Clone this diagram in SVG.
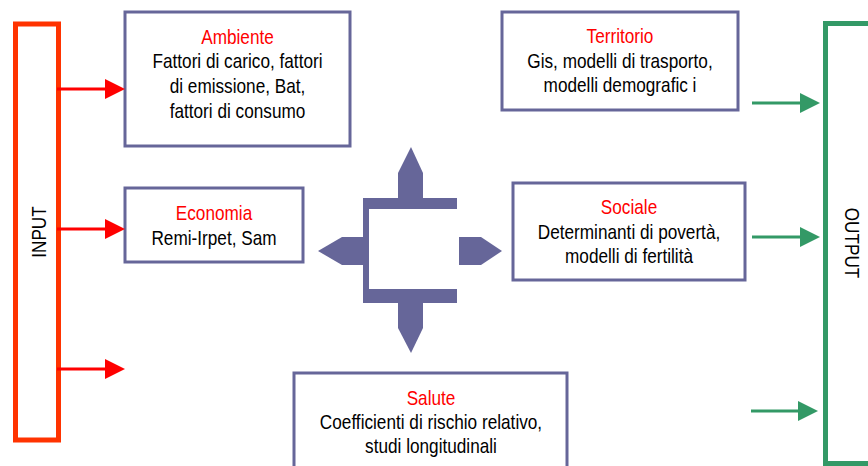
<svg xmlns="http://www.w3.org/2000/svg" width="868" height="466" viewBox="0 0 868 466">
<style>
  text { font-family: "Liberation Sans Narrow", "Arial Narrow", "Liberation Sans", Arial, sans-serif; font-size: 20px; text-anchor: middle; fill: #000; }
  .title { fill: #FF0000; }
  .box { fill: #FFFFFF; stroke: #666699; stroke-width: 3; }
  .red { stroke: #FF0000; stroke-width: 3; fill: none; }
  .green { stroke: #339966; stroke-width: 3; fill: none; }
  .hub { fill: #666699; }
</style>
<defs>
  <marker id="headRed" markerUnits="userSpaceOnUse" markerWidth="20" markerHeight="20" refX="10" refY="10" orient="auto" viewBox="0 0 20 20">
    <path d="M0,0 L20,10 L0,20 Z" fill="#FF0000"/>
  </marker>
  <marker id="headGreen" markerUnits="userSpaceOnUse" markerWidth="20" markerHeight="20" refX="10" refY="10" orient="auto" viewBox="0 0 20 20">
    <path d="M0,0 L20,10 L0,20 Z" fill="#339966"/>
  </marker>
</defs>

<g id="input">
  <rect x="15.5" y="24" width="43" height="416" fill="#FFFFFF" stroke="#FF3300" stroke-width="5"/>
  <text transform="translate(45.5,232) rotate(-90) scale(0.86,1)" x="0" y="0">INPUT</text>
</g>

<g id="output">
  <rect x="825.5" y="23.5" width="60" height="440" fill="#FFFFFF" stroke="#339966" stroke-width="5"/>
  <text transform="translate(845,243) rotate(90) scale(0.86,1)" x="0" y="0">OUTPUT</text>
</g>

<g id="ambiente">
  <rect class="box" x="125" y="12" width="225" height="134"/>
  <g transform="translate(237.5,0) scale(0.86,1)">
    <text class="title" x="0" y="44">Ambiente</text>
    <text x="0" y="68">Fattori di carico, fattori</text>
    <text x="0" y="93">di emissione, Bat,</text>
    <text x="0" y="118">fattori di consumo</text>
  </g>
</g>

<g id="economia">
  <rect class="box" x="125" y="188" width="178" height="74"/>
  <g transform="translate(214,0) scale(0.86,1)">
    <text class="title" x="0" y="220">Economia</text>
    <text x="0" y="245">Remi-Irpet, Sam</text>
  </g>
</g>

<g id="territorio">
  <rect class="box" x="502" y="12" width="236" height="98"/>
  <g transform="translate(620,0) scale(0.86,1)">
    <text class="title" x="0" y="43">Territorio</text>
    <text x="0" y="68">Gis, modelli di trasporto,</text>
    <text x="0" y="92">modelli demografic i</text>
  </g>
</g>

<g id="sociale">
  <rect class="box" x="513" y="183" width="232" height="97"/>
  <g transform="translate(629,0) scale(0.86,1)">
    <text class="title" x="0" y="214">Sociale</text>
    <text x="0" y="239">Determinanti di povertà,</text>
    <text x="0" y="263">modelli di fertilità</text>
  </g>
</g>

<g id="salute">
  <rect class="box" x="294" y="373" width="273" height="110"/>
  <g transform="translate(431,0) scale(0.86,1)">
    <text class="title" x="0" y="405">Salute</text>
    <text x="0" y="429">Coefficienti di rischio relativo,</text>
    <text x="0" y="453">studi longitudinali</text>
  </g>
</g>

<g id="hub" class="hub">
  <path d="M363,198 H457 V209 H369 V289 H457 V303 H363 Z"/>
  <polygon points="411,147 423,173 423,199 398,199 398,173"/>
  <polygon points="398,302 423,302 423,328 411,353 398,328"/>
  <polygon points="364,237 342,237 318,251 342,265 364,265"/>
  <polygon points="459,237 481,237 502,251 481,265 459,265"/>
</g>

<g id="connectors">
  <line class="red" x1="57" y1="89" x2="115" y2="89" marker-end="url(#headRed)"/>
  <line class="red" x1="57" y1="229" x2="115" y2="229" marker-end="url(#headRed)"/>
  <line class="red" x1="57" y1="369" x2="115" y2="369" marker-end="url(#headRed)"/>
  <line class="green" x1="752" y1="103" x2="810" y2="103" marker-end="url(#headGreen)"/>
  <line class="green" x1="752" y1="237" x2="810" y2="237" marker-end="url(#headGreen)"/>
  <line class="green" x1="751" y1="411" x2="808" y2="411" marker-end="url(#headGreen)"/>
</g>
</svg>
